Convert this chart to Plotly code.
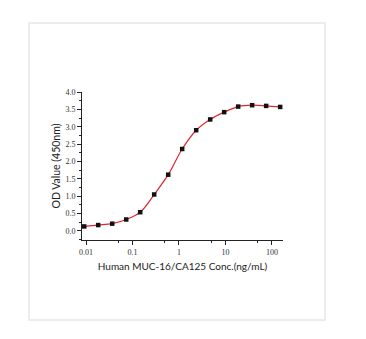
import plotly.graph_objects as go

conc = [150 / 2 ** k for k in range(14, -1, -1)]
od = [0.13, 0.17, 0.21, 0.33, 0.54, 1.05, 1.62, 2.36, 2.90, 3.21, 3.42, 3.58, 3.62, 3.60, 3.57]
x_tickvals = [0.01, 0.1, 1, 10, 100]
x_ticktext = ["0.01", "0.1", "1", "10", "100"]
y_tickvals = [0, 0.5, 1, 1.5, 2, 2.5, 3, 3.5, 4]
y_ticktext = ["0.0", "0.5", "1.0", "1.5", "2.0", "2.5", "3.0", "3.5", "4.0"]

fig = go.Figure()
fig.add_trace(go.Scatter(x=conc, y=od, mode="lines",
                         line=dict(color="#e0262e", width=1.2, shape="spline", smoothing=1.0),
                         hoverinfo="skip"))
fig.add_trace(go.Scatter(x=conc, y=od, mode="markers",
                         marker=dict(symbol="square", size=4.5, color="#111111")))

W, H = 366, 339
l, r, t, b = 82, 83, 92, 99
pw, ph = W - l - r, H - t - b

def px(xp):
    return (xp - l) / pw

def py(yp):
    return (H - b - yp) / ph

fig.add_shape(type="rect", xref="paper", yref="paper",
              x0=px(29), x1=px(325), y0=py(320), y1=py(23),
              line=dict(color="#e8e8e8", width=1.5), layer="below")

fig.update_layout(
    width=W, height=H, margin=dict(l=l, r=r, t=t, b=b),
    paper_bgcolor="white", plot_bgcolor="white", showlegend=False,
    font=dict(family="Lato", color="#222222"),
)
fig.update_xaxes(type="log", range=[-2.086, 2.237], tickvals=x_tickvals, ticktext=x_ticktext,
                 showgrid=False, zeroline=False, showline=True, linecolor="#222222", linewidth=1,
                 ticks="outside", ticklen=4, tickcolor="#222222",
                 tickfont=dict(family="Liberation Serif", size=8, color="#333333"),
                 minor=dict(tickvals=[0.05, 0.5, 5, 50], ticks="outside", ticklen=2, tickcolor="#222222"),
                 title=dict(text="Human MUC-16/CA125 Conc.(ng/mL)", font=dict(size=10), standoff=7))
fig.update_yaxes(range=[-0.26, 4.0], tickvals=y_tickvals, ticktext=y_ticktext,
                 showgrid=False, zeroline=False, showline=True, linecolor="#222222", linewidth=1,
                 ticks="outside", ticklen=4, tickcolor="#222222",
                 tickfont=dict(family="Liberation Serif", size=8, color="#333333"),
                 minor=dict(dtick=0.25, ticks="outside", ticklen=2, tickcolor="#222222"),
                 title=dict(text="OD Value (450nm)", font=dict(size=10.5), standoff=2))

fig.write_html("out.html")
